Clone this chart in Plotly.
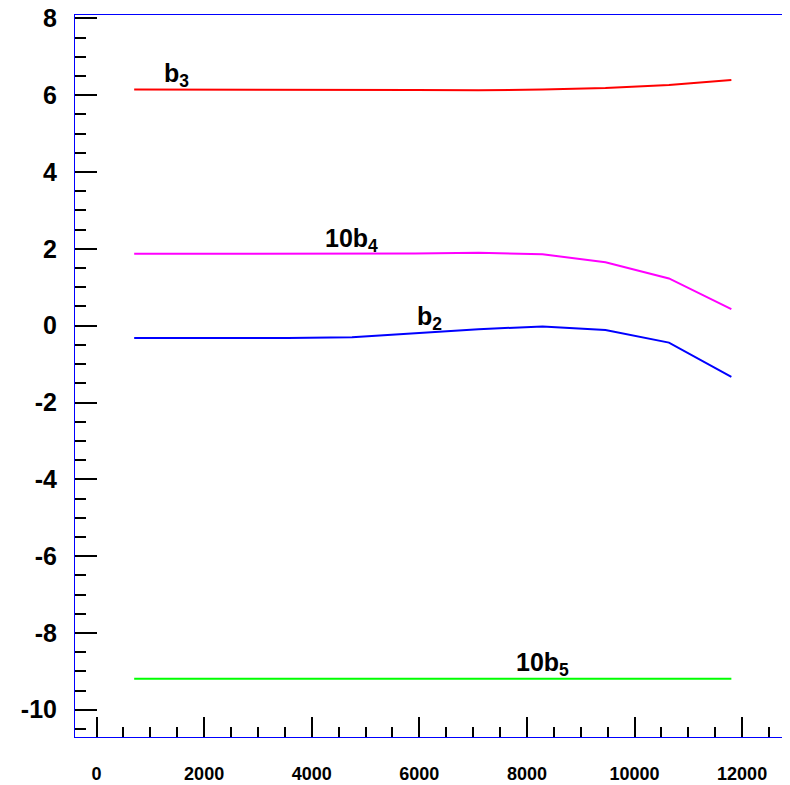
import plotly.graph_objects as go

# Data
x_vals = [700, 3550, 4750, 5920, 7100, 8290, 9460, 10640, 11800]
b3 = [6.15, 6.15, 6.15, 6.14, 6.13, 6.15, 6.19, 6.27, 6.40]
b4x10 = [1.87, 1.87, 1.87, 1.88, 1.90, 1.86, 1.65, 1.23, 0.43]
b2 = [-0.32, -0.32, -0.30, -0.20, -0.09, -0.02, -0.11, -0.44, -1.33]
b5x10 = [-9.19, -9.19, -9.19, -9.19, -9.19, -9.19, -9.19, -9.19, -9.19]

x_ticks = [0, 2000, 4000, 6000, 8000, 10000, 12000]
x_tick_text = ["0", "2000", "4000", "6000", "8000", "10000", "12000"]
y_ticks = [-10, -8, -6, -4, -2, 0, 2, 4, 6, 8]
y_tick_text = ["-10", "-8", "-6", "-4", "-2", "0", "2", "4", "6", "8"]

series = [
    ("b3", b3, "#FF0000"),
    ("10b4", b4x10, "#FF00FF"),
    ("b2", b2, "#0000FF"),
    ("10b5", b5x10, "#00FF00"),
]

label_text = ["b<sub>3</sub>", "10b<sub>4</sub>", "b<sub>2</sub>", "10b<sub>5</sub>"]
label_x = [1490, 4740, 6190, 8290]
label_y = [6.54, 2.23, 0.20, -8.80]

fig = go.Figure()
for name, ys, color in series:
    fig.add_trace(go.Scatter(x=x_vals, y=ys, mode="lines", name=name,
                             line=dict(color=color, width=2)))

for t, ax, ay in zip(label_text, label_x, label_y):
    fig.add_annotation(x=ax, y=ay, xref="x", yref="y", text=t, showarrow=False,
                       xanchor="center", yanchor="middle",
                       font=dict(family="Liberation Sans", size=25, color="black", weight="bold"))

fig.update_layout(
    width=782, height=777,
    margin=dict(l=67, r=0, t=7, b=48, autoexpand=False),
    paper_bgcolor="white", plot_bgcolor="white",
    showlegend=False,
    font=dict(family="Liberation Sans", color="black"),
)
fig.update_xaxes(
    range=[-400, 12890], showgrid=False, zeroline=False, automargin=False,
    showline=True, linecolor="#0000FF", linewidth=1, mirror=True,
    ticks="inside", ticklen=20, tickwidth=2, tickcolor="black",
    tickmode="array", tickvals=x_ticks, ticktext=x_tick_text,
    minor=dict(ticks="inside", ticklen=10, tickwidth=2, tickcolor="black", dtick=500, tick0=0, showgrid=False),
    tickfont=dict(family="Liberation Sans", size=18, color="black", weight="bold"),
    ticklabelstandoff=20, ticklabeloverflow="allow",
)
fig.update_yaxes(
    range=[-10.71, 8.09], showgrid=False, zeroline=False, automargin=False,
    showline=True, linecolor="#0000FF", linewidth=1,
    ticks="inside", ticklen=22, tickwidth=2, tickcolor="black",
    tickmode="array", tickvals=y_ticks, ticktext=y_tick_text,
    minor=dict(ticks="inside", ticklen=11, tickwidth=2, tickcolor="black", dtick=0.5, tick0=0, showgrid=False),
    tickfont=dict(family="Liberation Sans", size=25, color="black", weight="bold"),
    ticklabelstandoff=12, ticklabeloverflow="allow",
)

fig.write_html("out.html")
